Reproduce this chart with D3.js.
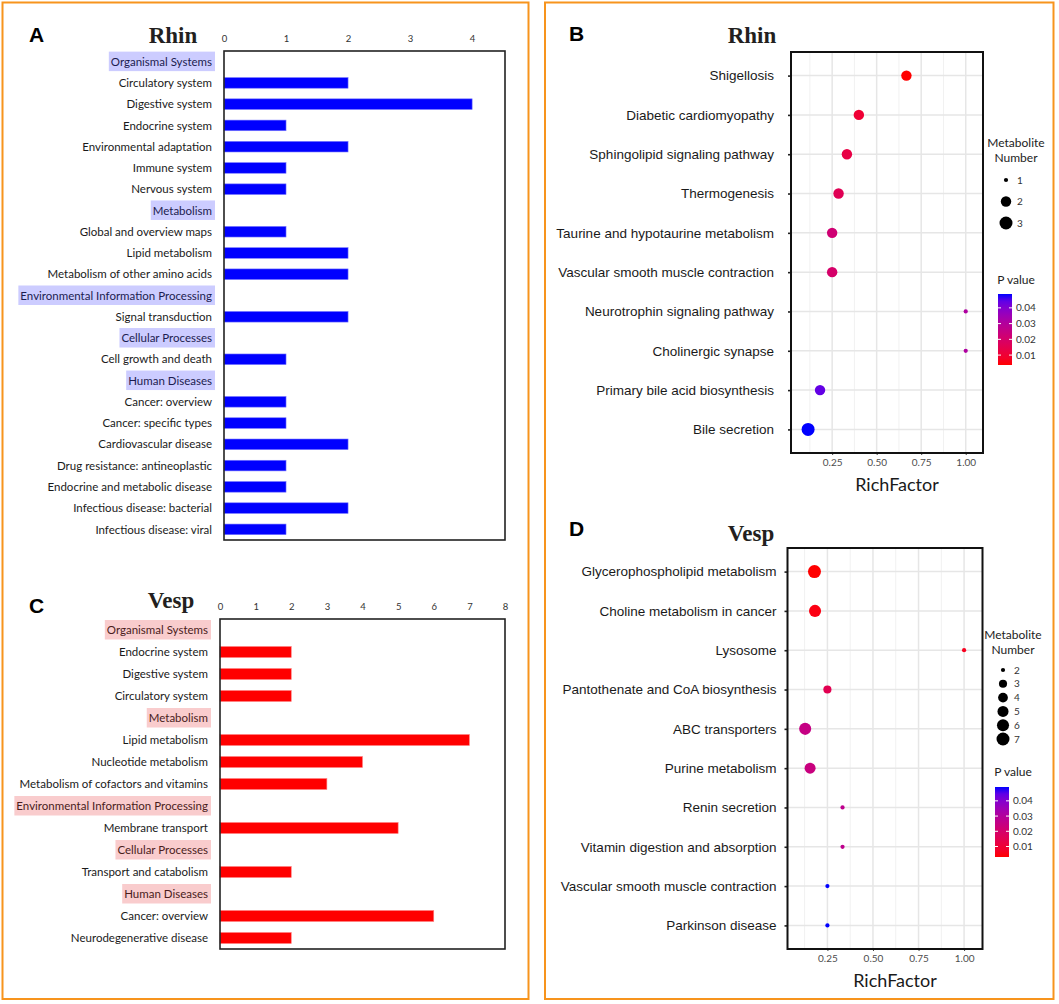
<!DOCTYPE html>
<html>
<head>
<meta charset="utf-8">
<script src="https://cdn.jsdelivr.net/npm/d3@7"></script>
<style>
  body { margin: 0; background: #fff; }
  svg { display: block; }
</style>
</head>
<body>
<script>
// ---- data ----
// panel A (Rhin, KEGG classes); null = class header row
const rhinTerms = [
    "Organismal Systems", "Circulatory system", "Digestive system", "Endocrine system",
    "Environmental adaptation", "Immune system", "Nervous system",
    "Metabolism", "Global and overview maps", "Lipid metabolism", "Metabolism of other amino acids",
    "Environmental Information Processing", "Signal transduction",
    "Cellular Processes", "Cell growth and death",
    "Human Diseases", "Cancer: overview", "Cancer: specific types", "Cardiovascular disease",
    "Drug resistance: antineoplastic", "Endocrine and metabolic disease",
    "Infectious disease: bacterial", "Infectious disease: viral"
];
const rhinCounts = [null, 2, 4, 1, 2, 1, 1, null, 1, 2, 2, null, 2, null, 1, null, 1, 1, 2, 1, 1, 2, 1];
const rhinTicks = [0, 1, 2, 3, 4];

// panel C (Vesp, KEGG classes)
const vespTerms = [
    "Organismal Systems", "Endocrine system", "Digestive system", "Circulatory system",
    "Metabolism", "Lipid metabolism", "Nucleotide metabolism", "Metabolism of cofactors and vitamins",
    "Environmental Information Processing", "Membrane transport",
    "Cellular Processes", "Transport and catabolism",
    "Human Diseases", "Cancer: overview", "Neurodegenerative disease"
];
const vespCounts = [null, 2, 2, 2, null, 7, 4, 3, null, 5, null, 2, null, 6, 2];
const vespTicks = [0, 1, 2, 3, 4, 5, 6, 7, 8];

// panel B (Rhin, enriched pathways)
const rhinPathways = [
    "Shigellosis", "Diabetic cardiomyopathy", "Sphingolipid signaling pathway", "Thermogenesis",
    "Taurine and hypotaurine metabolism", "Vascular smooth muscle contraction",
    "Neurotrophin signaling pathway", "Cholinergic synapse", "Primary bile acid biosynthesis", "Bile secretion"
];
const rhinRich = [0.667, 0.4, 0.333, 0.286, 0.25, 0.25, 1.0, 1.0, 0.182, 0.115];
const rhinNumber = [2, 2, 2, 2, 2, 2, 1, 1, 2, 3];
const rhinP = [0.0037, 0.010, 0.013, 0.016, 0.022, 0.020, 0.031, 0.031, 0.044, 0.0488];
const rhinSizeKeys = [1, 2, 3];

// panel D (Vesp, enriched pathways)
const vespPathways = [
    "Glycerophospholipid metabolism", "Choline metabolism in cancer", "Lysosome",
    "Pantothenate and CoA biosynthesis", "ABC transporters", "Purine metabolism", "Renin secretion",
    "Vitamin digestion and absorption", "Vascular smooth muscle contraction", "Parkinson disease"
];
const vespRich = [0.179, 0.182, 1.0, 0.25, 0.128, 0.155, 0.333, 0.333, 0.25, 0.25];
const vespNumber = [7, 6, 2, 3, 6, 5, 2, 2, 2, 2];
const vespP = [0.0031, 0.0045, 0.006, 0.015, 0.025, 0.024, 0.027, 0.027, 0.0491, 0.0491];
const vespSizeKeys = [2, 3, 4, 5, 6, 7];

const pTicks = [0.01, 0.02, 0.03, 0.04];
const richTicks = [0.25, 0.5, 0.75, 1.0];
const richMinor = [0.125, 0.375, 0.625, 0.875];

const svg = d3.select("body").append("svg").attr("width", 1059).attr("height", 1004);

// orange frames
svg.append("rect").attr("x", 2.5).attr("y", 2.5).attr("width", 526).attr("height", 996.5)
    .attr("fill", "none").attr("stroke", "#f7941d").attr("stroke-width", 2);
svg.append("rect").attr("x", 545).attr("y", 2.5).attr("width", 508.5).attr("height", 996.5)
    .attr("fill", "none").attr("stroke", "#f7941d").attr("stroke-width", 2);

const calibri = "Lato, 'Open Sans', sans-serif";
const arial = "'Liberation Sans', Arial, sans-serif";
const times = "'Liberation Serif', 'Times New Roman', serif";

const letter = (txt, x, y) =>
    svg.append("text").attr("x", x).attr("y", y).text(txt)
        .attr("font-family", arial).attr("font-weight", "bold").attr("font-size", 21).attr("fill", "#000");

const title = (txt, x, y) =>
    svg.append("text").attr("x", x).attr("y", y).text(txt).attr("text-anchor", "middle")
        .attr("font-family", times).attr("font-weight", "bold").attr("font-size", 23).attr("fill", "#231f20");

// horizontal bar panel with class headers
function barPanel(o) {
    const g = svg.append("g");
    const x = d3.scaleLinear().domain([0, o.xMax]).range([o.left, o.right]);
    const y = d3.scaleBand().domain(o.terms).range([o.top, o.bottom])
        .paddingInner(0.5).paddingOuter(0.25);

    const axis = g.append("g")
        .attr("transform", `translate(0,${o.top})`)
        .call(d3.axisTop(x).tickValues(o.ticks).tickSize(0).tickPadding(9).tickFormat(d3.format("d")));
    axis.select(".domain").remove();
    axis.selectAll("text").attr("font-family", calibri).attr("font-size", 9.5).attr("fill", "#333");

    const rows = o.terms.map((t, i) => ({ term: t, value: o.counts[i] }));

    g.selectAll("rect.bar")
        .data(rows.filter((d) => d.value !== null))
        .join("rect")
        .attr("class", "bar")
        .attr("x", x(0))
        .attr("y", (d) => y(d.term))
        .attr("width", (d) => x(d.value) - x(0))
        .attr("height", y.bandwidth())
        .attr("fill", o.color)
        .attr("stroke", o.edge)
        .attr("stroke-width", 0.6);

    const labels = g.selectAll("text.lab")
        .data(rows)
        .join("text")
        .attr("class", "lab")
        .attr("x", o.left - 12)
        .attr("y", (d) => y(d.term) + y.bandwidth() / 2)
        .attr("dy", "0.36em")
        .attr("text-anchor", "end")
        .attr("font-family", calibri)
        .attr("font-size", o.fontSize)
        .attr("fill", (d) => (d.value === null ? o.headText : "#1a1a1a"))
        .text((d) => d.term);

    // highlight boxes behind header labels
    labels.filter((d) => d.value === null).each(function (d) {
        const w = this.getComputedTextLength();
        const cy = y(d.term) + y.bandwidth() / 2;
        g.insert("rect", ":first-child")
            .attr("x", o.left - 12 - w - 2)
            .attr("y", cy - 10)
            .attr("width", w + 5)
            .attr("height", 19.5)
            .attr("fill", o.headFill);
    });

    g.append("rect")
        .attr("x", o.left).attr("y", o.top)
        .attr("width", o.right - o.left).attr("height", o.bottom - o.top)
        .attr("fill", "none").attr("stroke", "#222").attr("stroke-width", 1.6);
}

// bubble panel: RichFactor vs pathway, size = metabolite number, colour = P value
function dotPanel(o) {
    const g = svg.append("g");
    const x = d3.scaleLinear().domain(o.xDomain).range([o.left, o.right]);
    const y = d3.scalePoint().domain(o.terms).range([o.top, o.bottom]).padding(0.6);

    const nExt = d3.extent(o.number);
    const rNorm = d3.scaleLinear().domain(nExt).range([0, 1]);
    const rSqrt = d3.scaleSqrt().domain([0, 1]).range([2.1, 6.5]);
    const radius = (v) => rSqrt(rNorm(v));

    const pExt = d3.extent(o.p);
    const color = d3.scaleLinear().domain(pExt).range(["#ff0000", "#0000ff"]).interpolate(d3.interpolateLab);

    // grid
    g.selectAll("line.minor").data(richMinor).join("line")
        .attr("x1", (d) => x(d)).attr("x2", (d) => x(d))
        .attr("y1", o.top).attr("y2", o.bottom)
        .attr("stroke", "#f1f1f1").attr("stroke-width", 1);
    g.selectAll("line.vmajor").data(richTicks).join("line")
        .attr("x1", (d) => x(d)).attr("x2", (d) => x(d))
        .attr("y1", o.top).attr("y2", o.bottom)
        .attr("stroke", "#e6e6e6").attr("stroke-width", 1.5);
    g.selectAll("line.hmajor").data(o.terms).join("line")
        .attr("x1", o.left).attr("x2", o.right)
        .attr("y1", (d) => y(d)).attr("y2", (d) => y(d))
        .attr("stroke", "#e6e6e6").attr("stroke-width", 1.5);

    const rows = o.terms.map((t, i) => ({ term: t, rich: o.rich[i], n: o.number[i], p: o.p[i] }));

    g.selectAll("circle.pt")
        .data(rows)
        .join("circle")
        .attr("cx", (d) => x(d.rich))
        .attr("cy", (d) => y(d.term))
        .attr("r", (d) => radius(d.n))
        .attr("fill", (d) => color(d.p));

    // y axis
    const ya = g.append("g").attr("transform", `translate(${o.left},0)`)
        .call(d3.axisLeft(y).tickSize(3).tickPadding(o.labelPad));
    ya.select(".domain").remove();
    ya.selectAll("line").attr("stroke", "#222").attr("stroke-width", 1.6);
    ya.selectAll("text").attr("font-family", arial).attr("font-size", 13.5).attr("fill", "#1a1a1a");

    // x axis
    const xa = g.append("g").attr("transform", `translate(0,${o.bottom})`)
        .call(d3.axisBottom(x).tickValues(richTicks).tickSize(2).tickPadding(4).tickFormat(d3.format(".2f")));
    xa.select(".domain").remove();
    xa.selectAll("line").attr("stroke", "#444");
    xa.selectAll("text").attr("font-family", calibri).attr("font-size", 10).attr("fill", "#4d4d4d");

    g.append("text")
        .attr("x", (o.left + o.right) / 2 + 10)
        .attr("y", o.bottom + 38)
        .attr("text-anchor", "middle")
        .attr("font-family", calibri).attr("font-size", 18).attr("fill", "#1a1a1a")
        .text("RichFactor");

    g.append("rect")
        .attr("x", o.left).attr("y", o.top)
        .attr("width", o.right - o.left).attr("height", o.bottom - o.top)
        .attr("fill", "none").attr("stroke", "#111").attr("stroke-width", 2);

    // size legend
    const lg = g.append("g");
    lg.selectAll("text.st").data(["Metabolite", "Number"]).join("text")
        .attr("x", o.legX + 10).attr("y", (d, i) => o.sizeTitleY + i * 15)
        .attr("text-anchor", "middle")
        .attr("font-family", calibri).attr("font-size", 12).attr("fill", "#222")
        .text((d) => d);
    lg.selectAll("circle.key").data(o.sizeKeys).join("circle")
        .attr("cx", o.legX)
        .attr("cy", (d, i) => o.sizeKeyY + i * o.sizeStep)
        .attr("r", (d) => radius(d))
        .attr("fill", "#000");
    lg.selectAll("text.kl").data(o.sizeKeys).join("text")
        .attr("x", o.legX + 11)
        .attr("y", (d, i) => o.sizeKeyY + i * o.sizeStep)
        .attr("dy", "0.35em")
        .attr("font-family", calibri).attr("font-size", 10).attr("fill", "#333")
        .text((d) => d);

    // colour bar
    const gradId = "grad" + o.id;
    const grad = svg.append("defs").append("linearGradient")
        .attr("id", gradId).attr("x1", 0).attr("y1", 1).attr("x2", 0).attr("y2", 0);
    d3.range(0, 1.0001, 0.1).forEach((t) => {
        grad.append("stop").attr("offset", t)
            .attr("stop-color", color(pExt[0] + t * (pExt[1] - pExt[0])));
    });
    const cy = d3.scaleLinear().domain(pExt).range([o.barBottom, o.barTop]);
    lg.append("text")
        .attr("x", o.legX + 10).attr("y", o.pTitleY)
        .attr("text-anchor", "middle")
        .attr("font-family", calibri).attr("font-size", 12).attr("fill", "#222")
        .text("P value");
    lg.append("rect")
        .attr("x", o.legX - 8).attr("y", o.barTop)
        .attr("width", 14).attr("height", o.barBottom - o.barTop)
        .attr("fill", `url(#${gradId})`);
    pTicks.forEach((v) => {
        [o.legX - 8, o.legX + 3].forEach((bx) => {
            lg.append("line")
                .attr("x1", bx).attr("x2", bx + 3)
                .attr("y1", cy(v)).attr("y2", cy(v))
                .attr("stroke", "#fff").attr("stroke-width", 1);
        });
    });
    lg.selectAll("text.pl").data(pTicks).join("text")
        .attr("x", o.legX + 10)
        .attr("y", (d) => cy(d))
        .attr("dy", "0.35em")
        .attr("font-family", calibri).attr("font-size", 10).attr("fill", "#333")
        .text((d) => d3.format(".2f")(d));
}

// ---- panels ----
letter("A", 29, 42);
title("Rhin", 173, 43);
barPanel({
    terms: rhinTerms, counts: rhinCounts, ticks: rhinTicks, xMax: 4.53,
    left: 224, right: 505, top: 51, bottom: 540,
    color: "#0000ff", edge: "#7a7aff", headFill: "#ccccff", headText: "#1c1c50", fontSize: 11.5
});

letter("C", 29, 613);
title("Vesp", 171, 608);
barPanel({
    terms: vespTerms, counts: vespCounts, ticks: vespTicks, xMax: 8,
    left: 220, right: 505, top: 619, bottom: 949,
    color: "#ff0000", edge: "#ff8080", headFill: "#f9cccd", headText: "#4a1c1c", fontSize: 11.5
});

letter("B", 569, 41);
title("Rhin", 752, 43);
dotPanel({
    id: "B", terms: rhinPathways, rich: rhinRich, number: rhinNumber, p: rhinP,
    xDomain: [0.019, 1.097], left: 791, right: 983, top: 52, bottom: 453, labelPad: 14,
    legX: 1006, sizeTitleY: 147, sizeKeyY: 180, sizeStep: 21.5, sizeKeys: rhinSizeKeys,
    pTitleY: 284, barTop: 294, barBottom: 365
});

letter("D", 569, 536);
title("Vesp", 751, 541);
dotPanel({
    id: "D", terms: vespPathways, rich: vespRich, number: vespNumber, p: vespP,
    xDomain: [0.031, 1.101], left: 787.5, right: 982.5, top: 548, bottom: 949, labelPad: 8,
    legX: 1003, sizeTitleY: 639, sizeKeyY: 670, sizeStep: 13.8, sizeKeys: vespSizeKeys,
    pTitleY: 776, barTop: 787, barBottom: 857
});
</script>
</body>
</html>
